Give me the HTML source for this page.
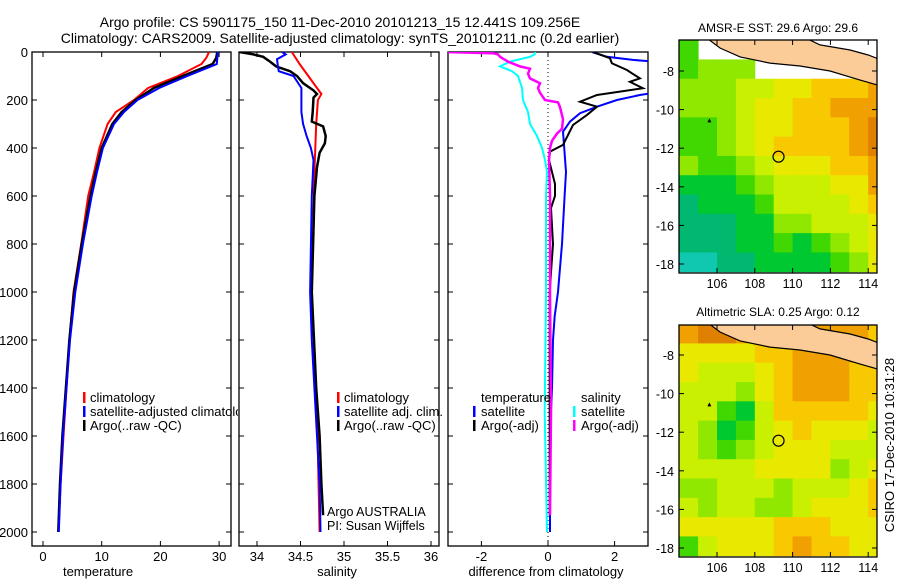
<!DOCTYPE html>
<html><head><meta charset="utf-8"><style>
body{margin:0;background:#fff;}
svg{display:block;font-family:"Liberation Sans",sans-serif;}
</style></head><body>
<svg id="fig" width="900" height="580" viewBox="0 0 900 580">
<defs>
<clipPath id="cp1"><rect x="32" y="52" width="199" height="494"/></clipPath>
<clipPath id="cp2"><rect x="239" y="52" width="200" height="494"/></clipPath>
<clipPath id="cp3"><rect x="448" y="52" width="200" height="494"/></clipPath>
<clipPath id="cpLeg1"><rect x="0" y="380" width="238" height="60"/></clipPath>
<clipPath id="cpM1"><rect x="679" y="40" width="198" height="233"/></clipPath>
<clipPath id="cpM2"><rect x="679" y="325" width="198" height="232"/></clipPath>
</defs>
<g id="root"></g>
<text x="340" y="27" text-anchor="middle" font-size="14">Argo profile: CS 5901175_150 11-Dec-2010 20101213_15 12.441S 109.256E</text>
<text x="340" y="43" text-anchor="middle" font-size="14">Climatology: CARS2009. Satellite-adjusted climatology: synTS_20101211.nc (0.2d earlier)</text>
<text x="778" y="32" text-anchor="middle" font-size="12">AMSR-E SST: 29.6 Argo: 29.6</text>
<text x="778" y="316" text-anchor="middle" font-size="12">Altimetric SLA: 0.25 Argo: 0.12</text>
<text x="0" y="0" transform="translate(894,445) rotate(-90)" text-anchor="middle" font-size="13">CSIRO 17-Dec-2010 10:31:28</text>
<text x="98" y="576" text-anchor="middle" font-size="13">temperature</text>
<text x="337" y="576" text-anchor="middle" font-size="13">salinity</text>
<text x="546" y="576" text-anchor="middle" font-size="13">difference from climatology</text>
<text x="327" y="516" font-size="12.5">Argo AUSTRALIA</text>
<text x="327" y="530" font-size="12.5">PI: Susan Wijffels</text>
</svg>
<script>
// ---- data ----
const tDepth = [0,25,50,100,150,200,250,300,400,500,600,800,1000,1200,1400,1600,1800,2000];
const tClim  = [28.3,27.8,27,23,17.9,15.5,12.4,11,9.6,8.7,7.7,6.5,5.2,4.5,4.0,3.5,3.0,2.6];
const tSat   = [29.8,29.7,29.6,24.6,19.8,16.1,13.8,12.1,10.2,9.2,8.3,6.8,5.5,4.6,4.0,3.4,3.0,2.7];
const tArgo  = [29.7,29.5,28.9,23.8,18.9,15.8,13.4,11.8,10.0,9.0,8.1,6.6,5.3,4.5,3.9,3.3,2.9,2.6];

const sClimDepth = [0,50,100,150,175,200,300,400,500,1000,1500,2000];
const sClim      = [34.40,34.49,34.59,34.69,34.74,34.70,34.68,34.67,34.66,34.63,34.69,34.72];
const sSatDepth  = [0,10,30,60,80,100,150,200,250,300,350,400,450,600,1000,1200,1400,1600,1800,2000];
const sSat       = [34.29,34.33,34.23,34.24,34.25,34.42,34.51,34.51,34.51,34.53,34.57,34.62,34.65,34.63,34.61,34.63,34.66,34.69,34.72,34.73];
const sArgoDepth = [0,10,20,40,60,80,100,130,160,175,190,250,290,310,350,380,420,480,600,1000,1400,1600,1800,1930];
const sArgo      = [33.80,33.96,34.07,34.15,34.22,34.38,34.46,34.53,34.65,34.69,34.65,34.64,34.63,34.76,34.79,34.78,34.72,34.69,34.66,34.63,34.68,34.72,34.74,34.76];

const dTSatDepth = [0,20,33,40,60,170,179,200,228,255,290,332,387,500,600,800,1000,1100,1200,1400,1600,2000];
const dTSat      = [1.32,1.77,2.55,3.2,3.2,3.2,2.76,2.07,1.47,0.96,0.66,0.45,0.48,0.54,0.5,0.42,0.3,0.2,0.15,0.12,0.06,0.06];
const dTArgoDepth = [0,26,47,75,110,124,151,179,207,228,262,304,346,387,415,450,550,600,650,800,900,1000,1500,1930];
const dTArgo      = [1.35,1.86,1.92,2.37,2.76,2.46,2.85,1.47,0.96,1.47,1.17,0.75,0.6,0.45,0.06,0.03,0.21,0.21,0.09,0.15,0.1,0.05,0.05,0.05];
const dSSatDepth = [0,10,20,40,60,80,100,150,200,250,300,350,400,450,500,600,1000,1500,2000];
const dSSat      = [-0.39,-0.4,-0.54,-1.14,-1.44,-1.08,-0.9,-0.78,-0.75,-0.6,-0.54,-0.33,-0.18,-0.09,-0.03,-0.06,-0.06,-0.1,-0.03];
const dSArgoDepth = [0,5,10,20,40,60,70,90,110,130,150,170,200,210,230,280,320,340,370,400,450,600,1000,1500,1930];
const dSArgo      = [-3.2,-1.65,-1.5,-1.44,-1.2,-0.84,-0.54,-0.6,-0.54,-0.24,-0.3,-0.24,-0.09,0.3,0.36,0.45,0.42,0.27,0.12,0.06,0.03,0.06,0.06,0.09,0.06];

const depthTicks = [0,200,400,600,800,1000,1200,1400,1600,1800,2000];
const tempTicks = [0,10,20,30];
const salTicks = [34,34.5,35,35.5,36];
const salTickLabels = ["34","34.5","35","35.5","36"];
const diffTicks = [-2,0,2];
const lonTicks = [106,108,110,112,114];
const latTicks = [-8,-10,-12,-14,-16,-18];

const sstGrid = [
 [3,-1,-1,-1,-1,-1,-1,-1,-1,-1,-1],
 [3,4,4,4,-1,-1,-1,-1,-1,-1,-1],
 [4,4,4,5,5,6,6,7,7,7,8],
 [4,4,4,5,6,6,7,7,8,8,8],
 [3,3,4,5,6,6,7,7,7,8,9],
 [3,3,4,5,6,7,7,7,7,8,9],
 [4,3,3,4,5,6,6,6,7,7,8],
 [2,2,2,3,4,5,5,5,6,6,8],
 [1,2,2,2,3,5,5,5,5,6,7],
 [1,1,1,2,2,4,4,5,5,5,6],
 [1,1,1,2,2,3,2,3,4,5,6],
 [0,0,1,1,2,2,2,2,3,4,6]];
const slaGrid = [
 [8,9,9,8,8,8,8,8,8,8,7],
 [6,6,6,6,7,7,8,8,8,8,7],
 [6,5,5,5,6,7,8,8,8,7,7],
 [5,5,5,4,6,7,8,8,8,7,7],
 [5,5,3,2,5,7,7,7,7,7,6],
 [5,4,2,3,5,6,7,6,6,6,5],
 [5,4,3,4,5,6,6,6,5,5,5],
 [5,5,5,5,6,6,6,6,4,5,6],
 [4,4,5,5,5,4,5,5,5,6,7],
 [5,4,5,5,4,4,5,6,6,6,7],
 [6,6,6,6,6,7,7,7,6,6,6],
 [3,5,6,6,6,7,8,7,7,6,6]];
const coastLon = [105.47,106.16,107.22,108.8,110.39,111.98,113.57,114.7,114.7,114.0,113.04,111.45,110.71,105.0];
const coastLat = [-6.3,-6.81,-7.27,-7.59,-7.74,-8.0,-8.47,-8.78,-7.43,-7.17,-6.91,-6.65,-6.3,-6.3];
const argoLon = 109.256, argoLat = -12.441;

// ---- scales ----
const yD = d => 52 + d*0.24;
const xT = v => 43 + v*5.87;
const xS = v => 257 + (v-34)*87;
const xDf = v => 548 + v*33.3;
const mX = lon => 717 + (lon-106)*18.9;
const m1Y = lat => 71 + (-8-lat)*19.3;
const m2Y = lat => 355 + (-8-lat)*19.3;
const palette = ["#10c8b0","#00b870","#00c830","#40d800","#90e800","#c8f000","#e8e800","#f8c800","#f0a000","#e08000"];

const NS="http://www.w3.org/2000/svg";
const root=document.getElementById('root');
function mk(tag,attrs,parent){const e=document.createElementNS(NS,tag);for(const k in attrs)e.setAttribute(k,attrs[k]);(parent||root).appendChild(e);return e;}

function line(depths,vals,xs,color,clip,name,w){
  const pts=depths.map((d,i)=>xs(vals[i]).toFixed(1)+','+yD(d).toFixed(1)).join(' ');
  const p=mk('polyline',{points:pts,fill:'none',stroke:color,'stroke-width':w||2,'clip-path':'url(#'+clip+')'});
  
  
}

function frame(x0,x1,y0,y1,name){
  const r=mk('rect',{x:x0,y:y0,width:x1-x0,height:y1-y0,fill:'none',stroke:'#000','stroke-width':1.3});
  
  
}
function hTicks(x0,x1,ys){ys.forEach(y=>{mk('line',{x1:x0,x2:x0+5,y1:y,y2:y,stroke:'#000'});mk('line',{x1:x1-5,x2:x1,y1:y,y2:y,stroke:'#000'});});}
function vTicks(y0,y1,xs){xs.forEach(x=>{mk('line',{x1:x,x2:x,y1:y0,y2:y0+5,stroke:'#000'});mk('line',{x1:x,x2:x,y1:y1-5,y2:y1,stroke:'#000'});});}
function txt(x,y,s,anchor,size,name,parent){const t=mk('text',{x:x,y:y,'text-anchor':anchor||'start','font-size':size||13},parent);t.textContent=s;
  
  
  return t;}

// profile panels
const P=[[32,231,'cp1'],[239,439,'cp2'],[448,648,'cp3']];
P.forEach((p,i)=>{frame(p[0],p[1],52,546,'profile-panel-'+(i+1));hTicks(p[0],p[1],depthTicks.map(yD));});
depthTicks.forEach(d=>txt(28,yD(d)+5,String(d),'end',13,'depth-tick-label'));
vTicks(52,546,tempTicks.map(xT));tempTicks.forEach(v=>txt(xT(v),561,String(v),'middle',13,'temp-tick-label'));
vTicks(52,546,salTicks.map(xS));salTicks.forEach((v,i)=>txt(xS(v),561,salTickLabels[i],'middle',13,'salinity-tick-label'));
vTicks(52,546,diffTicks.map(xDf));diffTicks.forEach(v=>txt(xDf(v),561,String(v),'middle',13,'diff-tick-label'));
mk('line',{x1:xDf(0),x2:xDf(0),y1:52,y2:546,stroke:'#000','stroke-dasharray':'1,3'});

line(tDepth,tClim,xT,'#ff0000','cp1','temp-climatology-line');
line(tDepth,tArgo,xT,'#000000','cp1','temp-argo-line',2.5);
line(tDepth,tSat,xT,'#0000ff','cp1','temp-satellite-line');
line(sClimDepth,sClim,xS,'#ff0000','cp2','salinity-climatology-line');
line(sArgoDepth,sArgo,xS,'#000000','cp2','salinity-argo-line',2.5);
line(sSatDepth,sSat,xS,'#0000ff','cp2','salinity-satellite-line');
line(dTSatDepth,dTSat,xDf,'#0000ff','cp3','diff-temp-satellite-line');
line(dTArgoDepth,dTArgo,xDf,'#000000','cp3','diff-temp-argo-line');
line(dSSatDepth,dSSat,xDf,'#00ffff','cp3','diff-sal-satellite-line');
line(dSArgoDepth,dSArgo,xDf,'#ff00ff','cp3','diff-sal-argo-line',2.5);

// legends
function legBar(x,y,c){mk('rect',{x:x,y:y-10,width:2.5,height:11,fill:c});}
const lg1=mk('g',{'clip-path':'url(#cpLeg1)'});
[['climatology','#f00'],['satellite-adjusted climatology','#00f'],['Argo(..raw -QC)','#000']].forEach((e,i)=>{legBar(83,402+14*i,e[1]);txt(90,402+14*i,e[0],'start',13,'legend-entry-temp',lg1);});
[['climatology','#f00'],['satellite adj. clim.','#00f'],['Argo(..raw -QC)','#000']].forEach((e,i)=>{legBar(337,402+14*i,e[1]);txt(344,402+14*i,e[0],'start',13,'legend-entry-salinity');});
txt(481,402,'temperature','start',13,'legend-header-temperature');
txt(581,402,'salinity','start',13,'legend-header-salinity');
[['satellite','#00f'],['Argo(-adj)','#000']].forEach((e,i)=>{legBar(473,416+14*i,e[1]);txt(481,416+14*i,e[0],'start',13,'legend-entry-diff-temp');});
[['satellite','#0ff'],['Argo(-adj)','#f0f']].forEach((e,i)=>{legBar(573,416+14*i,e[1]);txt(581,416+14*i,e[0],'start',13,'legend-entry-diff-sal');});

// maps
function map(grid,yf,clip,top,bot,name){
  const g=mk('g',{'clip-path':'url(#'+clip+')'});
  
  
  grid.forEach((row,r)=>row.forEach((v,c)=>{
    if(v<0)return;
    const lat0=-6.4-r, lon0=104+c;
    const x=mX(lon0), y=yf(lat0);
    const cell=mk('rect',{x:x,y:y,width:mX(lon0+1)-x+0.5,height:yf(lat0-1)-y+0.5,fill:palette[v]},g);
    
    
  }));
  const pts=coastLon.map((lo,i)=>mX(lo).toFixed(1)+','+yf(coastLat[i]).toFixed(1)).join(' ');
  const land=mk('polygon',{points:pts,fill:'#fccc98',stroke:'#000','stroke-width':1.2},g);
  
  
  mk('text',{x:mX(105.6),y:yf(-10.5)+3,'font-size':8,'text-anchor':'middle'},g).textContent='▴';
  const c=mk('circle',{cx:mX(argoLon),cy:yf(argoLat),r:5.5,fill:'none',stroke:'#000','stroke-width':1.2});
  
  
  frame(679,877,top,bot,name+'-frame');
  vTicks(top,bot,lonTicks.map(mX));
  hTicks(679,877,latTicks.map(yf));
  lonTicks.forEach(l=>txt(mX(l),bot+15,String(l),'middle',12.5,'lon-tick-label'));
  latTicks.forEach(l=>txt(674,yf(l)+5,String(l),'end',12.5,'lat-tick-label'));
}
map(sstGrid,m1Y,'cpM1',40,273,'sst-map');
map(slaGrid,m2Y,'cpM2',325,557,'sla-map');
</script>
</body></html>
